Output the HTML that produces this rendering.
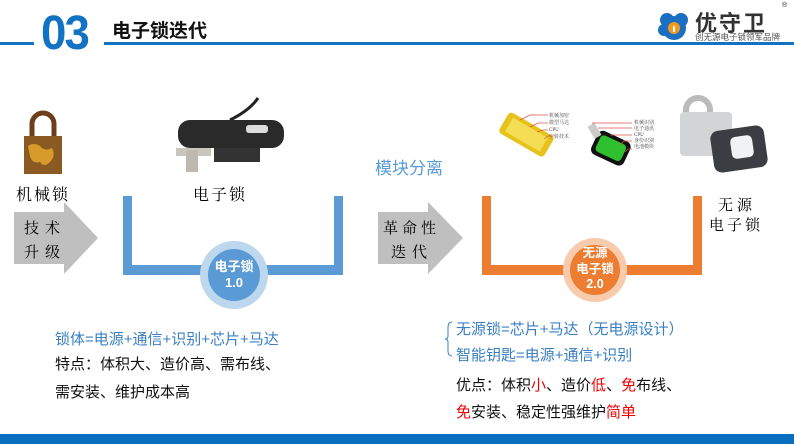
<!DOCTYPE html>
<html><head><meta charset="utf-8"><style>
html,body{margin:0;padding:0;background:#fff;}
body{width:794px;height:444px;overflow:hidden;position:relative;font-family:"Liberation Sans","Noto Sans CJK SC",sans-serif;}
.a{position:absolute;white-space:nowrap;}
.serif{font-family:"Liberation Serif","Noto Serif CJK SC",serif;}
</style></head><body>
<svg width="794" height="444" style="position:absolute;left:0;top:0">
  <rect x="0" y="42" width="34" height="3" fill="#1273c4"/>
  <rect x="104" y="42" width="690" height="3" fill="#1273c4"/>
  <rect x="0" y="434" width="794" height="10" fill="#0b6fbf"/>
  <!-- logo -->
  <circle cx="674" cy="28" r="12" fill="#1b6fc0"/>
  <circle cx="667" cy="20" r="7" fill="#1b6fc0"/>
  <circle cx="681" cy="20" r="7" fill="#1b6fc0"/>
  <circle cx="664" cy="30" r="6" fill="#1b6fc0"/>
  <circle cx="674" cy="28" r="6" fill="#f39a1e"/>
  <rect x="673" y="26" width="2" height="6" fill="#fff"/>
  <!-- padlock -->
  <path d="M32 136 V124 a11 11 0 0 1 22 0 V136" fill="none" stroke="#6b3f1c" stroke-width="5"/>
  <rect x="24" y="136" width="38" height="38" fill="#8a5a22"/>
  <path d="M28 146 q6 -4 12 0 q5 6 12 2 q4 8 -2 14 q-6 6 -10 0 q-8 2 -10 -6z" fill="#d79b2b"/>
  <!-- e-lock -->
  <path d="M230 120 q20 -10 28 -22" stroke="#222" stroke-width="3" fill="none"/>
  <rect x="178" y="120" width="106" height="28" rx="12" fill="#2a2a2a"/>
  <rect x="214" y="148" width="46" height="14" fill="#333"/>
  <rect x="246" y="125" width="22" height="8" rx="3" fill="#ddd"/>
  <rect x="176" y="148" width="35" height="8" fill="#c9c6be"/>
  <rect x="186" y="150" width="12" height="22" fill="#bdb9ae"/>
  <!-- gray arrows -->
  <polygon points="14,212 64,212 64,202 98,238 64,274 64,264 14,264" fill="#bfbfbf"/>
  <polygon points="378,212 428,212 428,202 463,238 428,274 428,264 378,264" fill="#bfbfbf"/>
  <!-- blue U -->
  <path d="M123 196 V275 H343 V196 H334 V265 H132 V196 Z" fill="#5b9bd5"/>
  <circle cx="234" cy="275" r="34" fill="#bdd7ee"/>
  <circle cx="234" cy="275" r="26" fill="#5b9bd5"/>
  <!-- orange U -->
  <path d="M482 196 V275 H702 V196 H693 V265 H491 V196 Z" fill="#ed7d31"/>
  <circle cx="595" cy="270" r="32" fill="#f8cbad"/>
  <circle cx="595" cy="270" r="25" fill="#ed7d31"/>
  <!-- battery -->
  <g transform="rotate(30 525 135)"><rect x="500" y="122" width="52" height="24" rx="4" fill="#e6c21a"/><rect x="506" y="126" width="40" height="16" fill="#f4de55"/></g>
  <g stroke="#e05050" stroke-width="0.7" fill="none"><path d="M520 120 l10 -5 h18"/><path d="M530 127 l8 -4 h10"/><path d="M537 132 l6 -2 h5"/><path d="M544 139 l4 -3 h4"/></g>
  <g font-size="5" fill="#444" font-family="Liberation Serif,Noto Serif CJK SC,serif"><text x="549" y="117">机械加密</text><text x="549" y="124">微型马达</text><text x="549" y="131">CPU</text><text x="549" y="138">空转技术</text></g>
  <!-- key -->
  <g transform="rotate(25 610 150)"><rect x="592" y="135" width="36" height="26" rx="6" fill="#111"/><rect x="596" y="139" width="28" height="18" rx="4" fill="#2ec02e"/></g>
  <rect x="590" y="124" width="8" height="14" fill="#ccc" transform="rotate(-30 594 130)"/>
  <g stroke="#e05050" stroke-width="0.7" fill="none"><path d="M592 123 h40"/><path d="M598 128 h34"/><path d="M610 135 h22"/><path d="M620 145 l4 -4 h8"/><path d="M625 152 l3 -3 h4"/></g>
  <g font-size="5" fill="#444" font-family="Liberation Serif,Noto Serif CJK SC,serif"><text x="634" y="124">机械识别</text><text x="634" y="130">电子通讯</text><text x="634" y="136">CPU</text><text x="634" y="142">身份识别</text><text x="634" y="148">电池模块</text></g>
  <!-- padlock 2 -->
  <path d="M686 132 V110 a12 12 0 0 1 24 0 V132" fill="none" stroke="#bbb" stroke-width="6"/>
  <rect x="680" y="112" width="52" height="44" rx="4" fill="#d3d4d6"/>
  <rect x="712" y="128" width="54" height="42" rx="8" fill="#3a3d42" transform="rotate(-8 739 149)"/>
  <rect x="731" y="136" width="22" height="22" rx="5" fill="#f1f2f3" transform="rotate(-8 742 147)"/>
  <!-- brace -->
  <path d="M452 322 q-4 0 -4 5 v9 q0 3 -3 3 q3 0 3 3 v9 q0 5 4 5" fill="none" stroke="#3a7fc4" stroke-width="1"/>
</svg>

<div class="a" style="left:41px;top:8px;font-size:48px;font-weight:bold;color:#1273c4;letter-spacing:-2px;line-height:52px;transform:scaleX(0.95);transform-origin:left">03</div>
<div class="a" style="left:112px;top:16px;font-size:19px;font-weight:bold;color:#111">电子锁迭代</div>
<div class="a" style="left:695px;top:6px;font-size:22px;font-weight:bold;color:#333;letter-spacing:2px">优守卫</div>
<div class="a" style="left:782px;top:2px;font-size:7px;color:#333">®</div>
<div class="a" style="left:695px;top:31px;font-size:8.5px;color:#555">创无源电子锁领军品牌</div>

<div class="a serif" style="left:16px;top:182px;font-size:16px;letter-spacing:2px">机械锁</div>
<div class="a serif" style="left:193px;top:182px;font-size:16px;letter-spacing:2px">电子锁</div>
<div class="a serif" style="left:24px;top:217px;font-size:15px;letter-spacing:6px">技术</div>
<div class="a serif" style="left:24px;top:241px;font-size:15px;letter-spacing:6px">升级</div>
<div class="a serif" style="left:383px;top:217px;font-size:15px;letter-spacing:4px">革命性</div>
<div class="a serif" style="left:391px;top:241px;font-size:15px;letter-spacing:6px">迭代</div>
<div class="a serif" style="left:718px;top:194px;font-size:15px;letter-spacing:4px">无源</div>
<div class="a serif" style="left:709px;top:214px;font-size:15px;letter-spacing:3px">电子锁</div>
<div class="a" style="left:375px;top:154px;font-size:17px;color:#5b9bd5">模块分离</div>

<div class="a" style="left:210px;top:259px;width:48px;text-align:center;font-size:13px;font-weight:bold;color:#fff;line-height:16px">电子锁<br>1.0</div>
<div class="a" style="left:571px;top:246px;width:48px;text-align:center;font-size:12.5px;font-weight:bold;color:#fff;line-height:15.5px">无源<br>电子锁<br>2.0</div>

<div class="a" style="left:55px;top:328px;font-size:15px;color:#3a7fc4">锁体=电源+通信+识别+芯片+马达</div>
<div class="a" style="left:55px;top:353px;font-size:15px;color:#111">特点：体积大、造价高、需布线、</div>
<div class="a" style="left:55px;top:381px;font-size:15px;color:#111">需安装、维护成本高</div>

<div class="a" style="left:456px;top:318px;font-size:15px;color:#3a7fc4">无源锁=芯片+马达（无电源设计）</div>
<div class="a" style="left:456px;top:344px;font-size:15px;color:#3a7fc4">智能钥匙=电源+通信+识别</div>
<div class="a" style="left:456px;top:374px;font-size:15px;color:#111">优点：体积<span style="color:#e00">小</span>、造价<span style="color:#e00">低</span>、<span style="color:#e00">免</span>布线、</div>
<div class="a" style="left:456px;top:401px;font-size:15px;color:#111"><span style="color:#e00">免</span>安装、稳定性强维护<span style="color:#e00">简单</span></div>
</body></html>
